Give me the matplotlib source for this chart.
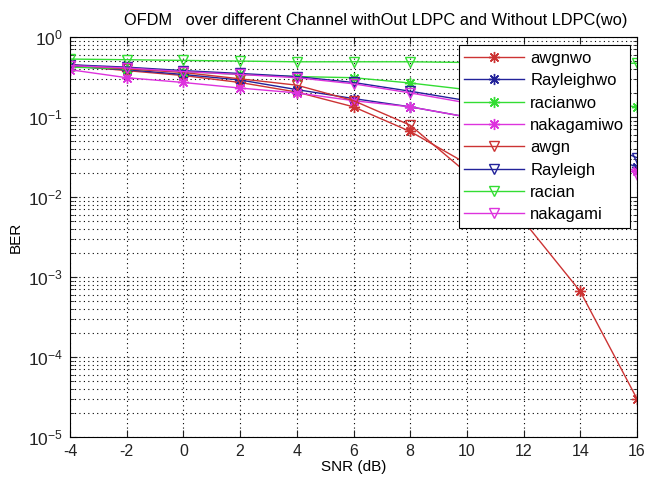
import numpy as np
import matplotlib
matplotlib.use("Agg")
import matplotlib.pyplot as plt
from matplotlib.ticker import LogLocator, FixedLocator, NullFormatter

plt.rcParams['font.family'] = ['Liberation Sans', 'DejaVu Sans']
plt.rcParams['mathtext.fontset'] = 'custom'
plt.rcParams['mathtext.rm'] = 'Liberation Sans'
plt.rcParams['mathtext.it'] = 'Liberation Sans'
plt.rcParams['mathtext.default'] = 'regular'

snr = [-4, -2, 0, 2, 4, 6, 8, 10, 12, 14, 16]
awgnwo = [0.44, 0.38, 0.33, 0.27, 0.205, 0.134, 0.066, 0.026, 0.005, 6.6e-4, 3e-5]
rayleighwo = [0.43, 0.39, 0.34, 0.29, 0.22, 0.17, 0.134, 0.10, 0.06, 0.038, 0.024]
racianwo = [0.42, 0.40, 0.37, 0.34, 0.32, 0.31, 0.266, 0.22, 0.19, 0.16, 0.134]
nakagamiwo = [0.39, 0.31, 0.27, 0.23, 0.20, 0.16, 0.134, 0.10, 0.06, 0.035, 0.021]
awgn = [0.45, 0.40, 0.36, 0.30, 0.25, 0.16, 0.079, 0.02, np.nan, np.nan, np.nan]
rayleigh = [0.45, 0.42, 0.38, 0.35, 0.32, 0.27, 0.21, 0.16, 0.10, 0.06, 0.031]
racian = [0.53, 0.52, 0.51, 0.50, 0.49, 0.49, 0.49, 0.48, 0.48, 0.47, 0.47]
nakagami = [0.44, 0.41, 0.37, 0.34, 0.31, 0.26, 0.20, 0.15, 0.09, 0.05, 0.019]

labels = ['awgnwo', 'Rayleighwo', 'racianwo', 'nakagamiwo',
          'awgn', 'Rayleigh', 'racian', 'nakagami']
series = [awgnwo, rayleighwo, racianwo, nakagamiwo,
          awgn, rayleigh, racian, nakagami]
colors = ['#cc3333', '#22229a', '#33dd33', '#dd33dd'] * 2

fig = plt.figure(figsize=(6.46, 4.8), dpi=100)
ax = fig.add_axes([70/646, 1 - 437/480, 567/646, 400/480])

for i, (lab, y) in enumerate(zip(labels, series)):
    if i < 4:
        ax.semilogy(snr, y, color=colors[i], marker=(8, 2, 0), markersize=8,
                    markeredgewidth=1.0, linewidth=1.0, label=lab)
    else:
        ax.semilogy(snr, y, color=colors[i], marker='v', markersize=7.5,
                    markerfacecolor='none', markeredgewidth=1.0,
                    linewidth=1.0, label=lab)

ax.set_xlim(-4, 16)
ax.set_ylim(1e-5, 1)
ax.set_xticks(snr)
ax.set_xticklabels([str(v) for v in snr])
ax.yaxis.set_major_locator(FixedLocator([1e-5, 1e-4, 1e-3, 1e-2, 1e-1, 1]))
ax.yaxis.set_minor_locator(LogLocator(base=10, subs=np.arange(2, 10), numticks=20))
ax.yaxis.set_minor_formatter(NullFormatter())
ax.set_yticklabels([r'$10^{-5}$', r'$10^{-4}$', r'$10^{-3}$', r'$10^{-2}$', r'$10^{-1}$', r'$10^{0}$'])

gridstyle = dict(color='black', linestyle=(0, (1, 3)), linewidth=0.8)
ax.grid(True, which='major', axis='both', **gridstyle)
ax.grid(True, which='minor', axis='y', **gridstyle)
ax.tick_params(which='both', direction='in', top=True, right=True, colors='#222222')
ax.tick_params(axis='x', labelsize=11.5, pad=5)
ax.tick_params(axis='y', labelsize=12.5, pad=5)
ax.tick_params(which='major', length=5)
ax.tick_params(which='minor', length=3)
for s in ax.spines.values():
    s.set_linewidth(0.8)

ax.set_xlabel('SNR (dB)', fontsize=11, labelpad=1)
ax.set_ylabel('BER', fontsize=11, labelpad=4)
fig.text(376/646, 1 - 20/480, 'OFDM   over different Channel withOut LDPC and Without LDPC(wo)',
         ha='center', va='center', fontsize=11.8)

leg = ax.legend(loc='upper right', bbox_to_anchor=(0.988, 0.98), fontsize=12,
                frameon=True, fancybox=False, edgecolor='black', framealpha=1,
                handlelength=3.6, labelspacing=0.44, borderpad=0.35, handletextpad=0.35,
                borderaxespad=0)
leg.get_frame().set_linewidth(0.8)

fig.savefig('out.png', dpi=100)
